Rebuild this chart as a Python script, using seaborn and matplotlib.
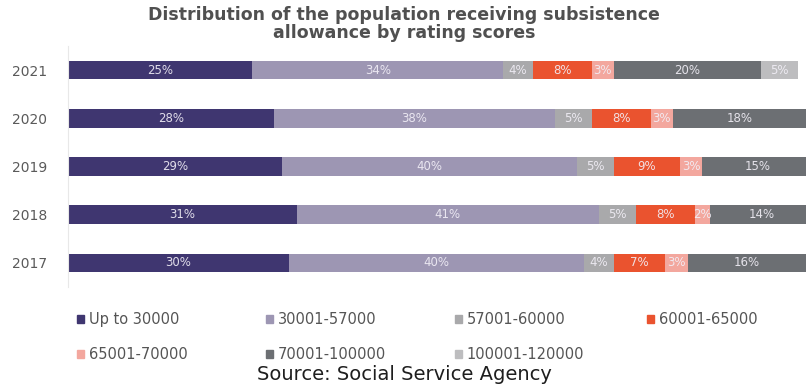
import numpy as np
import pandas as pd
import seaborn as sns
import matplotlib.pyplot as plt
from matplotlib.patches import Patch

# data
years = ["2021", "2020", "2019", "2018", "2017"]
groups = ["Up to 30000", "30001-57000", "57001-60000", "60001-65000",
          "65001-70000", "70001-100000", "100001-120000"]
up_to_30000 = [25, 28, 29, 31, 30]
s30001_57000 = [34, 38, 40, 41, 40]
s57001_60000 = [4, 5, 5, 5, 4]
s60001_65000 = [8, 8, 9, 8, 7]
s65001_70000 = [3, 3, 3, 2, 3]
s70001_100000 = [20, 18, 15, 14, 16]
s100001_120000 = [5, 0, 0, 0, 0]

colors = ["#3f3670", "#9d96b3", "#a9a9ab", "#ea532f", "#f3a79e", "#6c6f73", "#bdbdbf"]

df = pd.DataFrame({"year": years})
series = [up_to_30000, s30001_57000, s57001_60000, s60001_65000,
          s65001_70000, s70001_100000, s100001_120000]
for g, s in zip(groups, series):
    df[g] = s
cum = df[groups].cumsum(axis=1)

sns.set_style("white")
fig = plt.figure(figsize=(8.08, 3.85), dpi=100)
ax = fig.add_axes([0.084, 0.255, 0.913, 0.625])

# stacked bars: draw cumulative totals from widest to narrowest
for i in range(len(groups) - 1, -1, -1):
    sns.barplot(x=cum[groups[i]], y=df["year"], orient="h", color=colors[i],
                width=0.38, ax=ax, saturation=1, linewidth=0)

for i, g in enumerate(groups):
    for j in range(len(years)):
        v = df[g].iloc[j]
        if v <= 0:
            continue
        c = cum[g].iloc[j] - v / 2
        ax.text(c, j, f"{v}%", ha="center", va="center", fontsize=8.5,
                color="#f2eff7", alpha=0.9, clip_on=True)

ax.set_xlim(0, 100)
ax.set_ylim(4.5, -0.5)
ax.set_xlabel("")
ax.set_ylabel("")
ax.set_xticks([])
ax.tick_params(axis="y", length=0, pad=15, labelsize=10, labelcolor="#5a5a5a")
for sp in ["top", "right", "bottom"]:
    ax.spines[sp].set_visible(False)
ax.spines["left"].set_color("#e8e8e8")
ax.spines["left"].set_linewidth(0.8)

fig.text(0.5, 0.938, "Distribution of the population receiving subsistence\nallowance by rating scores",
         ha="center", va="center", fontsize=12.5, fontweight="bold", color="#505050",
         linespacing=1.05)

# legend: one small legend per column so the columns sit where the reference has them
handles = [Patch(color=c, label=g) for c, g in zip(colors, groups)]
columns = [[0, 4], [1, 5], [2, 6], [3]]
col_x = [77, 266, 455, 647]
for idx, xpx in zip(columns, col_x):
    leg = fig.legend([handles[k] for k in idx], [groups[k] for k in idx],
                     loc="upper left", bbox_to_anchor=(xpx / 808, 0.19), frameon=False,
                     borderpad=0, borderaxespad=0,
                     handlelength=0.45, handleheight=0.45, handletextpad=0.35,
                     labelspacing=1.4, fontsize=10.5, labelcolor="#555555")

fig.text(0.5, 0.002, "Source: Social Service Agency", ha="center", va="bottom",
         fontsize=14, color="#1e1e1e")

fig.savefig("out.png", dpi=100, facecolor="white")
